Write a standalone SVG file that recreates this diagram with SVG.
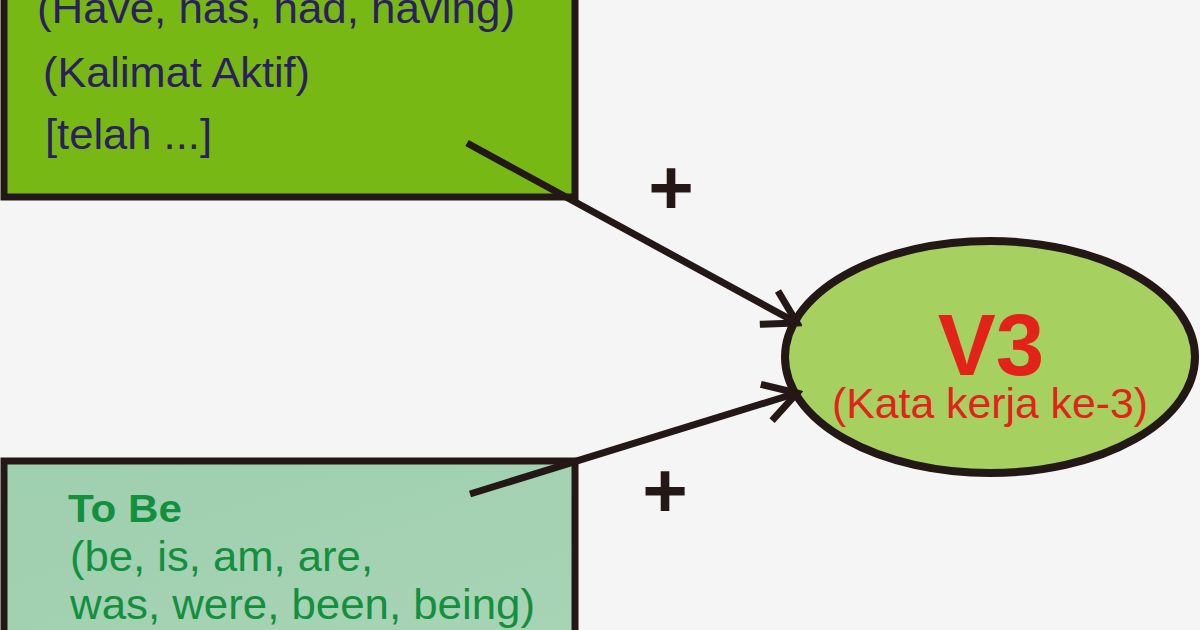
<svg xmlns="http://www.w3.org/2000/svg" width="1200" height="630" viewBox="0 0 1200 630">
<defs>
<style>
.t{font-family:"Liberation Sans",Arial,sans-serif;font-size:42px}
.navy{fill:#2b1f60}
.grn{fill:#12903e}
.red{fill:#e2231a}
.plus{font-family:"Liberation Sans",Arial,sans-serif;font-size:78px;font-weight:bold;fill:#231815;text-anchor:middle}
.edge{stroke:#231815;stroke-width:7;fill:none}
</style>
<linearGradient id="g2" x1="0" y1="0" x2="1" y2="1">
<stop offset="0" stop-color="#9ecfae"/>
<stop offset="1" stop-color="#a8d4b6"/>
</linearGradient>
<marker id="ah" markerUnits="userSpaceOnUse" viewBox="-40 -25 46 50" refX="0" refY="0" markerWidth="46" markerHeight="50" orient="auto">
<path d="M-32,-19 L0,0 L-32,19" fill="none" stroke="#231815" stroke-width="7"/>
</marker>
</defs>
<rect width="1200" height="630" fill="#f5f5f5"/>
<g id="node-have">
<rect x="4" y="-20" width="571" height="217" fill="#78b814" stroke="#231815" stroke-width="7"/>
<text class="t navy" x="37" y="23" textLength="478" lengthAdjust="spacingAndGlyphs">(Have, has, had, having)</text>
<text class="t navy" x="43" y="87" textLength="267" lengthAdjust="spacingAndGlyphs">(Kalimat Aktif)</text>
<text class="t navy" x="45" y="149" textLength="167" lengthAdjust="spacingAndGlyphs">[telah ...]</text>
</g>
<g id="node-tobe">
<rect x="4" y="461" width="571" height="200" fill="url(#g2)" stroke="#231815" stroke-width="7"/>
<text class="t grn" x="68" y="522" font-weight="bold" style="font-size:38px" textLength="114" lengthAdjust="spacingAndGlyphs">To Be</text>
<text class="t grn" x="70" y="571" textLength="303" lengthAdjust="spacingAndGlyphs">(be, is, am, are,</text>
<text class="t grn" x="70" y="619" textLength="465" lengthAdjust="spacingAndGlyphs">was, were, been, being)</text>
</g>
<g id="node-v3">
<ellipse cx="990" cy="357" rx="205" ry="116" fill="#a6d05f" stroke="#231815" stroke-width="8"/>
<text x="991" y="375" font-family="'Liberation Sans',Arial,sans-serif" font-weight="bold" font-size="87" class="red" text-anchor="middle">V3</text>
<text class="t red" x="990" y="418" text-anchor="middle" textLength="316" lengthAdjust="spacingAndGlyphs">(Kata kerja ke-3)</text>
</g>
<g id="connectors">
<line class="edge" x1="467" y1="143" x2="797" y2="323" marker-end="url(#ah)"/>
<line class="edge" x1="470" y1="494" x2="797" y2="393" marker-end="url(#ah)"/>
<text class="plus" x="671" y="214">+</text>
<text class="plus" x="665" y="517">+</text>
</g>
</svg>
